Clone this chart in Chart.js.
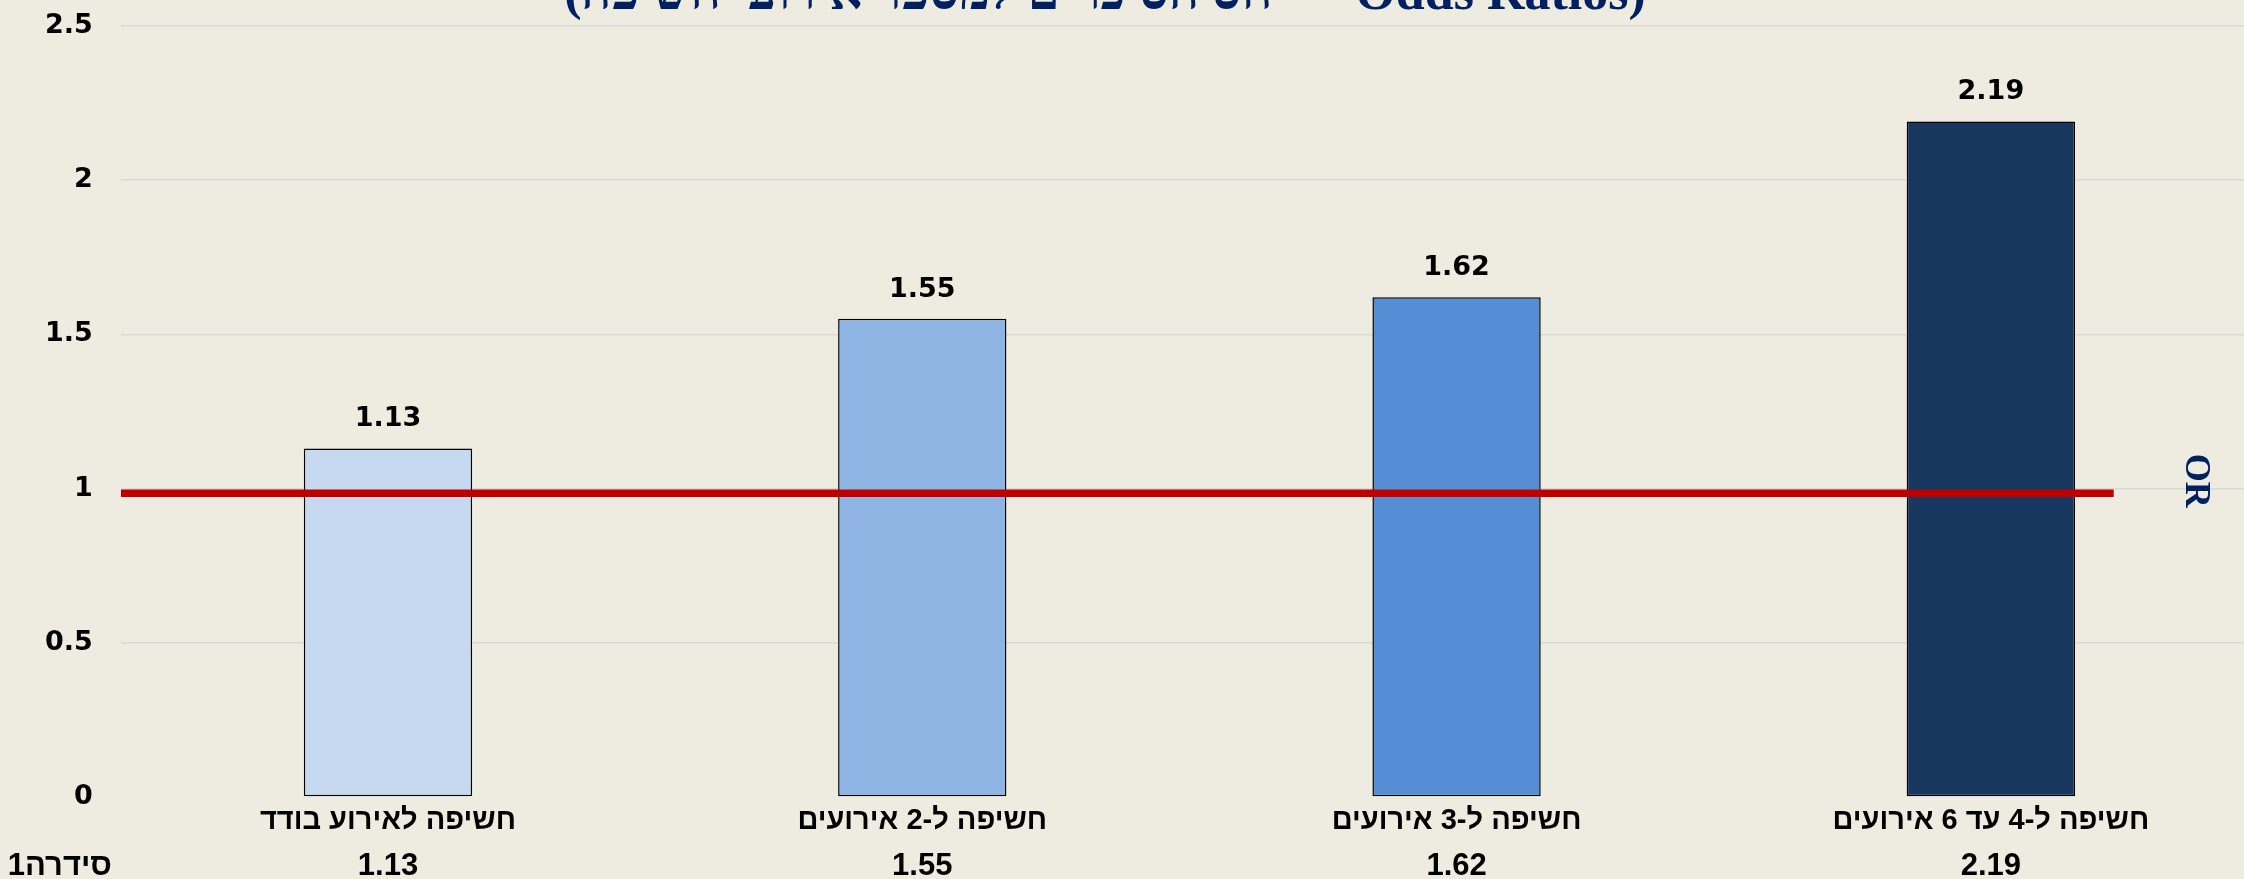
<!DOCTYPE html>
<html lang="he">
<head>
<meta charset="utf-8">
<script src="https://cdn.jsdelivr.net/npm/chart.js@4.4.1/dist/chart.umd.min.js"></script>
<style>
  html, body { margin: 0; padding: 0; background: #EEECE1; }
  #wrap { position: relative; width: 2244px; height: 879px; overflow: hidden; background: #EEECE1; }
  #chart { position: absolute; left: 0; top: -44px; }
</style>
</head>
<body>
<div id="wrap"><canvas id="chart" width="2258" height="931"></canvas></div>
<script>
// נתונים
const categories = ['חשיפה לאירוע בודד', 'חשיפה ל-2 אירועים', 'חשיפה ל-3 אירועים', 'חשיפה ל-4 עד 6 אירועים'];
const oddsRatios = [1.13, 1.55, 1.62, 2.19];
const barColors = ['#C6D9F1', '#8EB4E3', '#558ED5', '#17375E'];
const seriesName = 'סידרה1';
const refLineX = [-0.5, 3.23];
const refLineY = [0.985, 0.985];
const titleText = '(יחס הסיכויים למספר אירועי חשיפה  -  Odds Ratios)\u00A0\u00A0\u00A0\u00A0\u00A0';
const sideTitle = 'OR';

// ערכים מעל העמודות
const barLabels = {
  id: 'barLabels',
  afterDatasetsDraw(chart) {
    const ctx = chart.ctx;
    const meta = chart.getDatasetMeta(1);
    ctx.save();
    ctx.font = 'bold 27px "DejaVu Sans", sans-serif';
    ctx.fillStyle = '#000';
    ctx.textAlign = 'center';
    ctx.textBaseline = 'middle';
    meta.data.forEach((bar, i) => {
      ctx.fillText(oddsRatios[i].toFixed(2), bar.x, bar.y - 29);
    });
    ctx.restore();
  },
};

// כותרת OR בצד ימין + שם הסדרה בטבלה
const extraText = {
  id: 'extraText',
  afterDraw(chart) {
    const ctx = chart.ctx;
    const a = chart.chartArea;
    ctx.save();
    ctx.translate(a.right - 63, a.top + (a.bottom - a.top) * 0.59);
    ctx.rotate(Math.PI / 2);
    ctx.font = 'bold 36px "Liberation Serif", "Times New Roman", serif';
    ctx.fillStyle = '#002060';
    ctx.textAlign = 'center';
    ctx.textBaseline = 'middle';
    ctx.fillText(sideTitle, 0, 0);
    ctx.restore();

    const t = chart.scales.xTable;
    ctx.save();
    ctx.font = 'bold 31px "Liberation Sans", Arial, sans-serif';
    ctx.fillStyle = '#000';
    ctx.textAlign = 'right';
    ctx.textBaseline = 'middle';
    ctx.fillText(seriesName, 112, t.top + 2 + 31 * 1.2 / 2);
    ctx.restore();
  },
};

const ctx = document.getElementById('chart').getContext('2d');
const chart = new Chart(ctx, {
  type: 'bar',
  data: {
    labels: categories,
    datasets: [
      {
        type: 'line',
        label: 'OR = 1',
        data: refLineX.map((x, i) => ({ x: x, y: refLineY[i] })),
        xAxisID: 'xLine',
        yAxisID: 'y',
        borderColor: '#C00000',
        borderWidth: 7.5,
        pointRadius: 0,
        fill: false,
        order: 0,
      },
      {
        label: seriesName,
        data: oddsRatios,
        xAxisID: 'x',
        backgroundColor: barColors,
        borderColor: '#000000',
        borderWidth: 1.5,
        borderSkipped: false,
        barPercentage: 0.315,
        categoryPercentage: 1,
        grouped: false,
        order: 1,
      },
    ],
  },
  options: {
    responsive: false,
    devicePixelRatio: 1,
    animation: false,
    layout: { padding: { left: 17, right: 0, top: 0, bottom: 0 } },
    plugins: {
      legend: { display: false },
      tooltip: { enabled: false },
      title: {
        display: true,
        text: titleText,
        color: '#002060',
        font: { family: 'Liberation Serif, Times New Roman, serif', size: 52, weight: 'bold', lineHeight: 1.15 },
        padding: { top: 10, bottom: 0 },
      },
    },
    scales: {
      x: {
        type: 'category',
        offset: true,
        grid: { display: false, drawTicks: false },
        border: { display: false },
        ticks: {
          color: '#000',
          font: { family: 'Liberation Sans, Arial, sans-serif', size: 29, weight: 'bold', lineHeight: 1.2 },
          padding: 7,
          maxRotation: 0,
          autoSkip: false,
        },
      },
      xTable: {
        type: 'category',
        position: 'bottom',
        weight: 1,
        labels: oddsRatios.map((v) => v.toFixed(2)),
        offset: true,
        grid: { display: false, drawTicks: false },
        border: { display: false },
        ticks: {
          color: '#000',
          font: { family: 'Liberation Sans, Arial, sans-serif', size: 31, weight: 'bold', lineHeight: 1.2 },
          padding: 2,
          maxRotation: 0,
          autoSkip: false,
        },
      },
      xLine: {
        type: 'linear',
        display: false,
        offset: false,
        min: -0.5,
        max: 3.5,
      },
      y: {
        min: 0,
        max: 2.5,
        ticks: {
          stepSize: 0.5,
          color: '#000',
          padding: 28,
          font: { family: 'DejaVu Sans, sans-serif', size: 27, weight: 'bold' },
          callback: (v) => String(v),
        },
        grid: {
          drawTicks: false,
          lineWidth: 1.5,
          color: (c) => (c.tick && c.tick.value === 0 ? 'rgba(0,0,0,0)' : '#D9D9D9'),
        },
        border: { display: false },
      },
    },
  },
  plugins: [barLabels, extraText],
});
</script>
</body>
</html>
